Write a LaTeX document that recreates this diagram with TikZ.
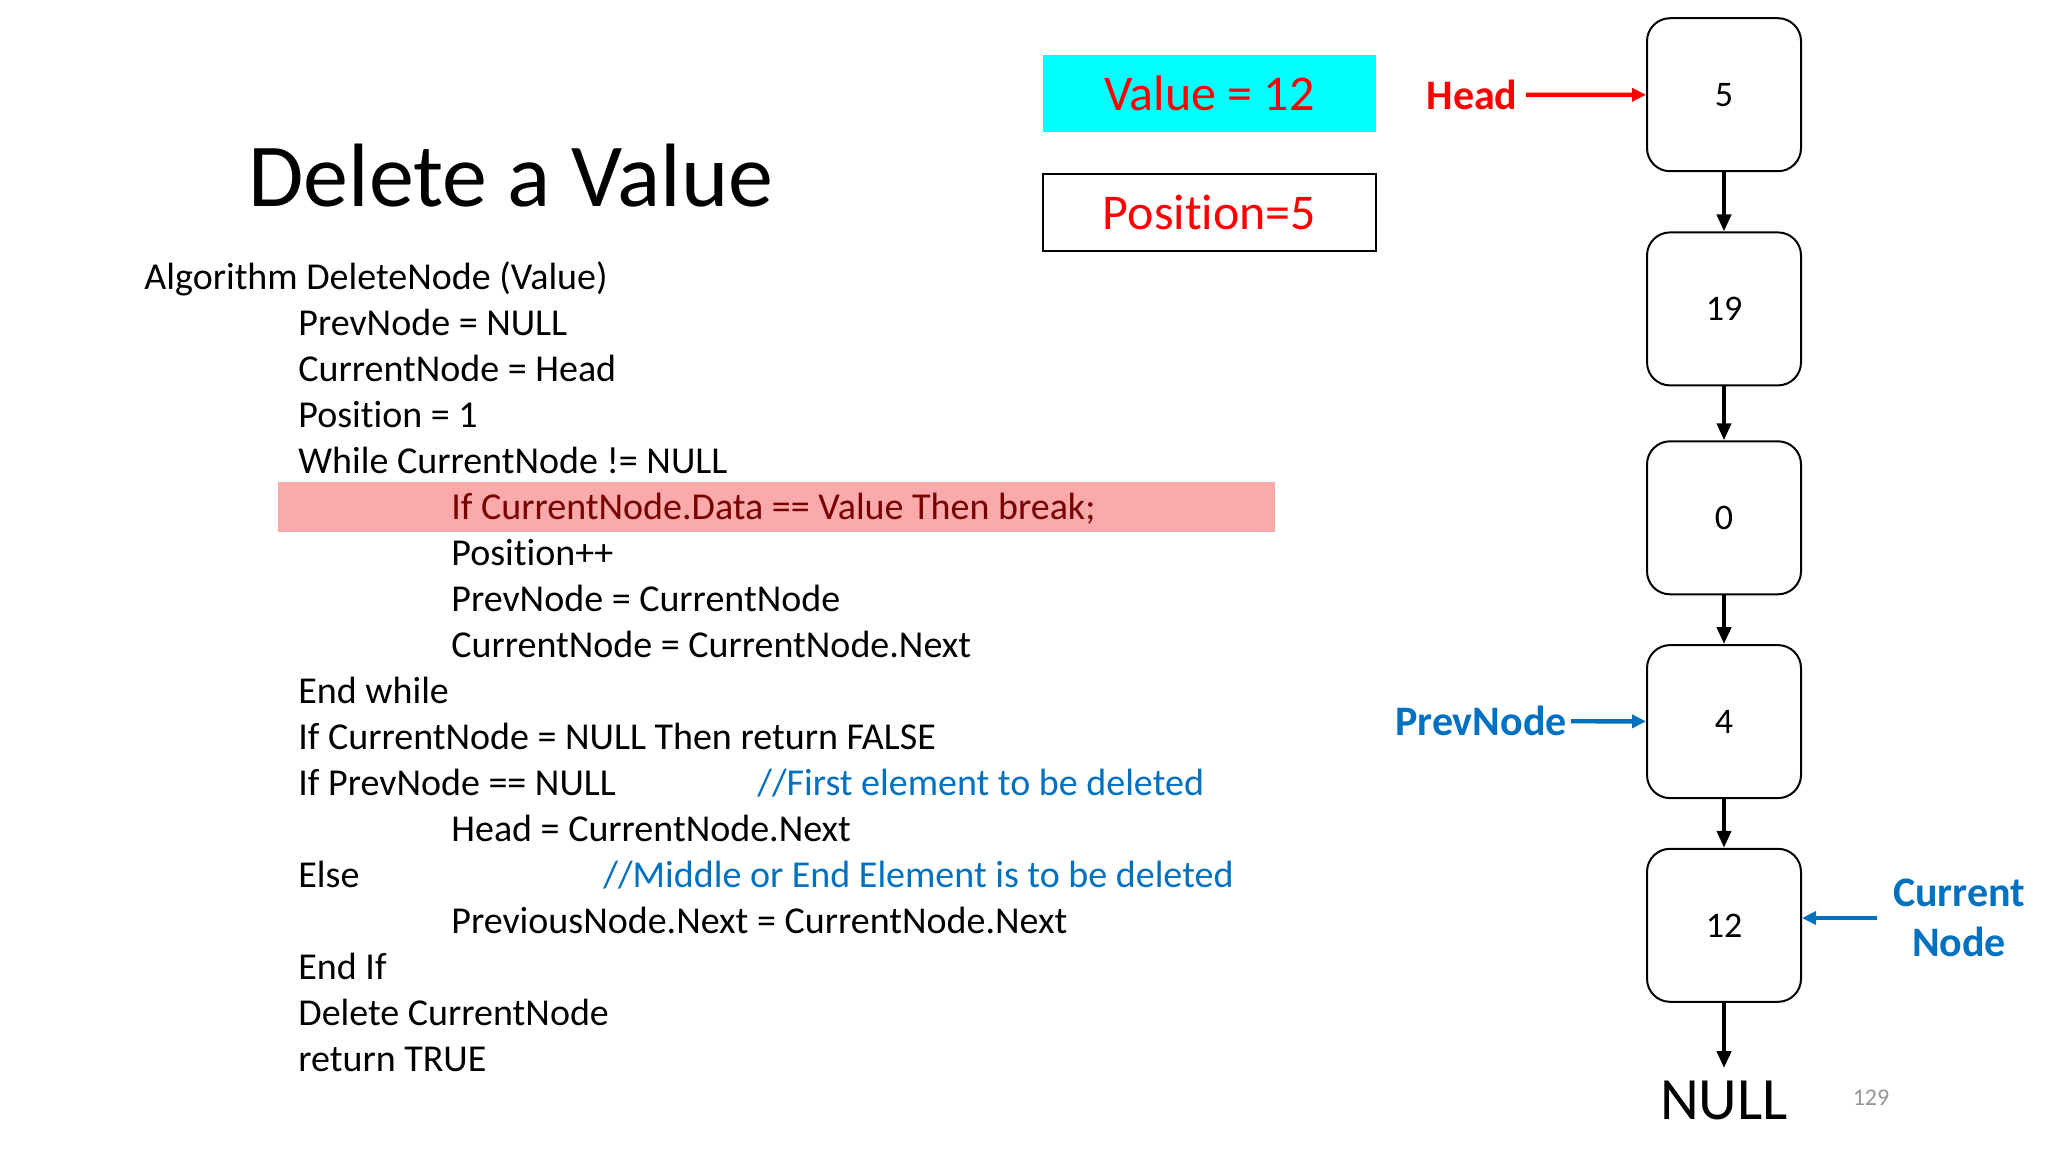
\documentclass[tikz,border=0pt]{standalone}
\usepackage{fontspec}
\setmainfont[Ligatures=NoCommon]{Carlito}
\usetikzlibrary{arrows.meta}

\definecolor{slideblue}{RGB}{0,112,192}
\definecolor{valcyan}{RGB}{0,255,255}
\definecolor{hlpink}{RGB}{250,170,170}
\definecolor{hltext}{RGB}{120,0,0}
\definecolor{pagegray}{RGB}{150,150,150}

\tikzset{
  listbox/.style={draw, line width=1pt, rounded corners=11.5pt, minimum width=77pt,
    minimum height=76.5pt, font=\fontsize{18}{20}\selectfont},
  codeline/.style={anchor=base west, inner sep=0pt, font=\fontsize{19}{23}\selectfont},
  varbox/.style={minimum width=166.5pt, minimum height=38.5pt, text=red,
    font=\fontsize{25}{30}\selectfont},
  nextarrow/.style={line width=2pt, -{Triangle[length=8.5pt,width=7pt]}},
  pointer/.style={line width=2.2pt, -{Triangle[length=7pt,width=6.5pt]}},
  ptrlabel/.style={font=\bfseries\fontsize{21}{25}\selectfont}
}

\begin{document}
\begin{tikzpicture}[x=0.5pt, y=-0.5pt]
  \useasboundingbox (0,0) rectangle (2048,1152);

  % title
  \node[anchor=base west, inner sep=0pt, font=\fontsize{45}{54}\selectfont] (title) at (248,206) {Delete a Value};

  % algorithm
  \fill[hlpink] (278,482) rectangle (1275,532);
  \foreach \i/\x/\t in {
    1/144/{Algorithm DeleteNode (Value)},
    2/298/{PrevNode = NULL},
    3/298/{CurrentNode = Head},
    4/298/{Position = 1},
    5/298/{While CurrentNode != NULL},
    6/451/{\textcolor{hltext}{If CurrentNode.Data == Value Then break;}},
    7/451/{Position++},
    8/451/{PrevNode = CurrentNode},
    9/451/{CurrentNode = CurrentNode.Next},
    10/298/{End while},
    11/298/{If CurrentNode = NULL Then return FALSE},
    12/298/{If PrevNode == NULL},
    13/451/{Head = CurrentNode.Next},
    14/298/{Else},
    15/451/{PreviousNode.Next = CurrentNode.Next},
    16/298/{End If},
    17/298/{Delete CurrentNode},
    18/298/{return TRUE}}
    \node[codeline] (line\i) at (\x,{289+46*(\i-1)}) {\t};
  \node[codeline, text=slideblue] (cmt12) at (757,795) {//First element to be deleted};
  \node[codeline, text=slideblue] (cmt14) at (603,887) {//Middle or End Element is to be deleted};

  % variables
  \node[varbox, fill=valcyan] (value) at (1209.5,93.5) {Value = 12};
  \node[varbox, draw, line width=1pt] (pos) at (1209.5,212.5) {Position=5};

  % linked list
  \node[listbox] (n1) at (1724,94.7) {5};
  \node[listbox] (n2) at (1724,308.9) {19};
  \node[listbox] (n3) at (1724,517.8) {0};
  \node[listbox] (n4) at (1724,721.6) {4};
  \node[listbox] (n5) at (1724,925.3) {12};
  \node[font=\fontsize{30}{36}\selectfont, inner sep=6pt, anchor=base] (null) at (1724,1119) {NULL};
  \draw[nextarrow] (n1) -- (n2);
  \draw[nextarrow] (n2) -- (n3);
  \draw[nextarrow] (n3) -- (n4);
  \draw[nextarrow] (n4) -- (n5);
  \draw[nextarrow] (n5) -- (null);

  % pointers
  \node[ptrlabel, text=red, inner sep=4pt] (head) at (1472,95) {Head};
  \draw[pointer, red] (head) -- (n1);
  \node[ptrlabel, text=slideblue, inner sep=2pt] (prev) at (1481,721) {PrevNode};
  \draw[pointer, slideblue] (prev) -- (n4);
  \node[ptrlabel, text=slideblue, align=center, inner sep=8pt] (cur) at (1959,918) {Current\\Node};
  \draw[pointer, slideblue] (cur.west) -- (cur.west -| n5.east);

  \node[text=pagegray, font=\fontsize{12}{14}\selectfont] (page) at (1871,1098) {129};
\end{tikzpicture}
\end{document}
